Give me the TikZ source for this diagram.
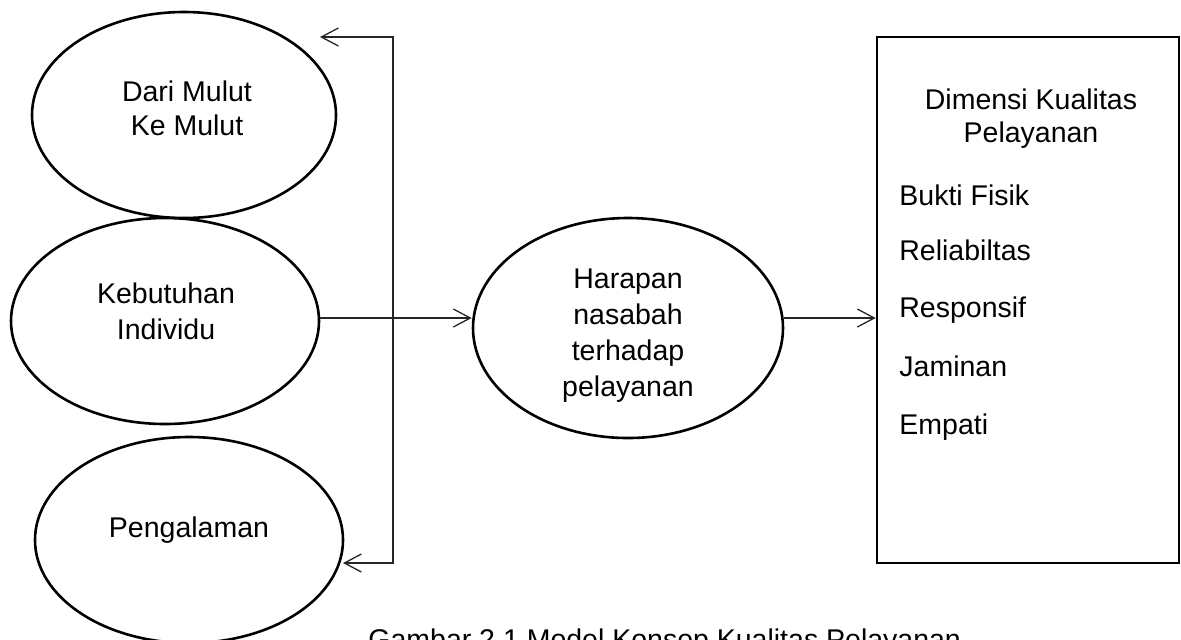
\documentclass[tikz,border=0pt]{standalone}
\usepackage{fontspec}
\setmainfont{Liberation Sans}
\usetikzlibrary{shapes.geometric,arrows.meta}
\begin{document}
\begin{tikzpicture}[x=0.5pt,y=-0.5pt,
  txt/.style={font=\fontsize{14.25pt}{17pt}\selectfont, inner sep=0pt, align=center},
  ell/.style={draw, ellipse, line width=1.3pt, inner sep=0pt},
  boxr/.style={draw, rectangle, line width=1.3pt, inner sep=0pt},
  conn/.style={line width=0.65pt, draw=black!85},
  tip/.style={-{Straight Barb[length=8.5pt,width=9pt,line width=0.65pt]}}
]
\useasboundingbox (0,0) rectangle (1181,639);
% ellipses
\node[ell, minimum width=152pt, minimum height=103pt] (A) at (184,115) {};
\node[txt] (tA) at (187,108) {Dari Mulut\\Ke Mulut};
\node[ell, minimum width=154pt, minimum height=103pt] (B) at (165,321) {};
\node[txt, font=\fontsize{14.25pt}{18pt}\selectfont] (tB) at (166,311) {Kebutuhan\\Individu};
\node[ell, minimum width=154pt, minimum height=103pt] (C) at (189,540) {};
\node[txt] (tC) at (189,530) {Pengalaman};
\node[ell, minimum width=155pt, minimum height=110pt] (H) at (628,328) {};
\node[txt, font=\fontsize{14.25pt}{18pt}\selectfont] (tH) at (628,336) {Harapan\\nasabah\\terhadap\\pelayanan};
% rectangle
\node[boxr, minimum width=151pt, minimum height=263pt] (R) at (1028,300) {};
\node[txt, font=\fontsize{14.25pt}{16.5pt}\selectfont] (tR) at (1031,119) {Dimensi Kualitas\\Pelayanan};
\node[txt, anchor=base west] (r1) at (899,205) {Bukti Fisik};
\node[txt, anchor=base west] (r2) at (899,260) {Reliabiltas};
\node[txt, anchor=base west] (r3) at (899,317) {Responsif};
\node[txt, anchor=base west] (r4) at (899,376) {Jaminan};
\node[txt, anchor=base west] (r5) at (899,434) {Empati};
% connectors
\coordinate (j) at (393,318);
\coordinate (vtop) at (393,37);
\coordinate (vbot) at (393,563);
\coordinate (ptop) at (320,37);
\coordinate (pbot) at (343,563);
\draw[conn, tip] (B.east |- j) -- (H.west |- j);
\draw[conn, tip] (H.east |- j) -- (R.west |- j);
\draw[conn, {Straight Barb[length=8.5pt,width=9pt,line width=0.65pt]}-{Straight Barb[length=8.5pt,width=9pt,line width=0.65pt]}] (ptop) -- (vtop) -- (vbot) -- (pbot);
% caption
\node[txt, anchor=base west] (cap) at (368,649) {Gambar 2.1 Model Konsep Kualitas Pelayanan};
\end{tikzpicture}
\end{document}
